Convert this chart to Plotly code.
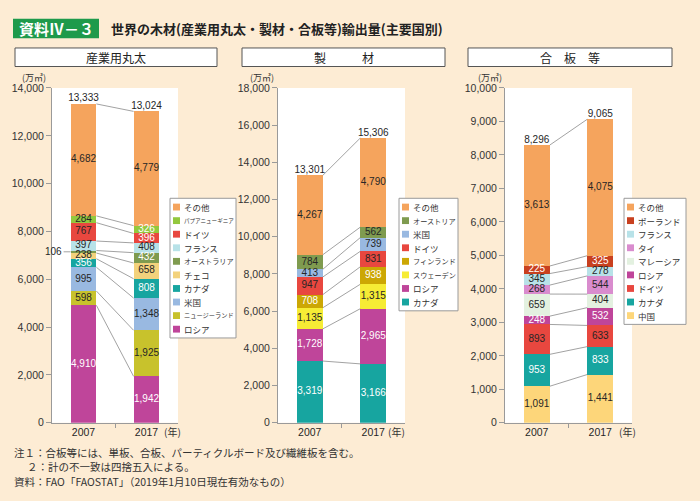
import plotly.graph_objects as go

# ---------------- data ----------------
YEARS = ["2007", "2017"]

LOG_CATS = ["ロシア", "ニュージーランド", "米国", "カナダ", "チェコ", "オーストラリア",
            "フランス", "ドイツ", "パプアニューギニア", "その他"]
LOG_2007 = [4910, 598, 995, 356, 238, 106, 397, 767, 284, 4682]
LOG_2017 = [1942, 1925, 1348, 808, 658, 432, 408, 396, 326, 4779]
LOG_TOTAL = [13333, 13024]

LUM_CATS = ["カナダ", "ロシア", "スウェーデン", "フィンランド", "ドイツ", "米国", "オーストリア", "その他"]
LUM_2007 = [3319, 1728, 1135, 708, 947, 413, 784, 4267]
LUM_2017 = [3166, 2965, 1315, 938, 831, 739, 562, 4790]
LUM_TOTAL = [13301, 15306]

PLY_CATS = ["中国", "カナダ", "ドイツ", "ロシア", "マレーシア", "タイ", "フランス", "ポーランド", "その他"]
PLY_2007 = [1091, 953, 893, 248, 659, 268, 345, 225, 3613]
PLY_2017 = [1441, 833, 633, 532, 404, 544, 278, 325, 4075]
PLY_TOTAL = [8296, 9065]

PANEL_TITLES = ["産業用丸太", "製\u3000\u3000\u3000材", "合\u3000板\u3000等"]
Y_MAX = [14000, 18000, 10000]
Y_STEP = [2000, 2000, 1000]
UNIT = "(万㎥)"
YEAR_UNIT = "(年)"
TITLE_TAG = "資料Ⅳ－３"
TITLE = "世界の木材(産業用丸太・製材・合板等)輸出量(主要国別)"
NOTES = ["注１：合板等には、単板、合板、パーティクルボード及び繊維板を含む。",
         "２：計の不一致は四捨五入による。",
         "資料：FAO「FAOSTAT」（2019年1月10日現在有効なもの）"]

# ---------------- styles ----------------
COLORS = {
    "その他": "#F5A45D", "パプアニューギニア": "#93C83E", "ドイツ": "#E8473F",
    "フランス": "#B8E2E8", "オーストラリア": "#7F9B4F", "チェコ": "#F3D27C",
    "カナダ": "#17A5A0", "米国": "#99B9E1", "ニュージーランド": "#C8C22C",
    "ロシア": "#BF459A", "オーストリア": "#7F9B4F", "フィンランド": "#CCA704",
    "スウェーデン": "#F6EC35", "ポーランド": "#C8401F", "タイ": "#D98CCE",
    "マレーシア": "#E3F1E0", "中国": "#FDD67A",
}
WHITE_LABELS = [
    {(0, "ロシア"), (1, "ロシア"), (0, "カナダ"), (1, "カナダ"), (1, "オーストラリア"),
     (1, "ドイツ"), (1, "パプアニューギニア")},
    {(0, "カナダ"), (1, "カナダ"), (0, "ロシア"), (1, "ロシア"), (0, "フィンランド"), (1, "フィンランド")},
    {(0, "カナダ"), (1, "カナダ"), (0, "ロシア"), (1, "ロシア"), (0, "ポーランド"), (1, "ポーランド")},
]
DARK = "#262626"
AXIS_C = "#9a9a9a"
CONN_C = "#8a8a8a"
BG = "#FDECD4"
NUM_FONT = "Liberation Sans, Arial, Noto Sans CJK JP, sans-serif"
JP_FONT = "Noto Sans CJK JP, sans-serif"

W, H = 700, 501
def PX(x): return x / W
def PY(y): return 1 - y / H

PLOT_X = [(52, 178), (278, 405), (505, 632)]
PLOT_Y = (84, 427)
HEAD_X = [(15, 217), (242, 445), (468, 672)]
HEAD_Y = (43, 62)
LEG_X = [(170, 236), (399, 458), (624, 686)]
LEG_Y0 = 197
LEG_STEP = 13.9
UNIT_X = [34, 262, 490]
YEARU_X = [172, 396, 627]
BAR_W = 0.41

panels = [
    (LOG_CATS, LOG_2007, LOG_2017, LOG_TOTAL),
    (LUM_CATS, LUM_2007, LUM_2017, LUM_TOTAL),
    (PLY_CATS, PLY_2007, PLY_2017, PLY_TOTAL),
]

fig = go.Figure()
shapes = []
annotations = []

def note(x, y, text, size, color, family=JP_FONT, xanchor="center"):
    annotations.append(dict(x=PX(x), y=PY(y), xref="paper", yref="paper", text=text,
                            xanchor=xanchor, yanchor="middle", showarrow=False,
                            font=dict(size=size, color=color, family=family)))

for p, (cats, v07, v17, totals) in enumerate(panels):
    xa = "x" if p == 0 else f"x{p+1}"
    ya = "y" if p == 0 else f"y{p+1}"
    ymax = Y_MAX[p]
    vals = [v07, v17]
    for i, c in enumerate(cats):
        fig.add_trace(go.Bar(
            x=[0, 1], y=[v07[i], v17[i]], width=BAR_W, name=c,
            marker=dict(color=COLORS[c], line=dict(width=0)),
            xaxis=xa, yaxis=ya, showlegend=False, hoverinfo="name+y"))
    cum = []
    for yi in range(2):
        s, arr = 0, []
        for v in vals[yi]:
            s += v
            arr.append(s)
        cum.append(arr)
    for k in range(len(cats)):
        fig.add_trace(go.Scatter(
            x=[BAR_W / 2, 1 - BAR_W / 2], y=[cum[0][k], cum[1][k]], mode="lines",
            line=dict(color=CONN_C, width=0.8), xaxis=xa, yaxis=ya,
            showlegend=False, hoverinfo="skip"))
    for yi in range(2):
        xs, ys, ts, cs = [], [], [], []
        for i, c in enumerate(cats):
            v = vals[yi][i]
            if v / ymax < 0.012:
                annotations.append(dict(
                    x=yi - BAR_W / 2, y=cum[yi][i] - v / 2, xref=xa, yref=ya,
                    text=f"{v:,}", showarrow=True, arrowhead=0, arrowwidth=0.8,
                    arrowcolor=CONN_C, ax=-17, ay=0, xanchor="center", yanchor="middle",
                    font=dict(size=10, color=DARK, family=NUM_FONT)))
                continue
            xs.append(yi)
            ys.append(cum[yi][i] - v / 2)
            ts.append(f"{v:,}")
            cs.append("white" if (yi, c) in WHITE_LABELS[p] else DARK)
        fig.add_trace(go.Scatter(
            x=xs, y=ys, text=ts, mode="text", textposition="middle center",
            textfont=dict(size=10, color=cs, family=NUM_FONT),
            xaxis=xa, yaxis=ya, showlegend=False, hoverinfo="skip"))
    fig.add_trace(go.Scatter(
        x=[0, 1], y=[cum[0][-1], cum[1][-1]], text=[f"{t:,}" for t in totals],
        mode="text", textposition="top center",
        textfont=dict(size=10, color=DARK, family=NUM_FONT),
        xaxis=xa, yaxis=ya, showlegend=False, hoverinfo="skip"))

    x0, x1 = PLOT_X[p]
    fig.update_layout(**{
        ("xaxis" if p == 0 else f"xaxis{p+1}"): dict(
            domain=[PX(x0), PX(x1)], range=[-0.5, 1.5], anchor=ya,
            tickvals=[0, 1], ticktext=YEARS, ticks="", showgrid=False, zeroline=False,
            showline=True, linecolor=AXIS_C, linewidth=1,
            minor=dict(tickvals=[0.5], ticks="outside", ticklen=4, tickcolor=AXIS_C),
            tickfont=dict(size=10.5, color=DARK, family=NUM_FONT), fixedrange=True),
        ("yaxis" if p == 0 else f"yaxis{p+1}"): dict(
            domain=[PY(PLOT_Y[1]), PY(PLOT_Y[0])], range=[0, ymax], anchor=xa,
            dtick=Y_STEP[p], tickformat=",d", ticks="outside", ticklen=5,
            tickcolor=AXIS_C, showgrid=False, zeroline=False, showline=True,
            linecolor=AXIS_C, linewidth=1,
            tickfont=dict(size=10.5, color="#333", family=NUM_FONT), fixedrange=True),
    })

    hx0, hx1 = HEAD_X[p]
    shapes.append(dict(type="rect", xref="paper", yref="paper",
                       x0=PX(hx0), x1=PX(hx1), y0=PY(HEAD_Y[1]), y1=PY(HEAD_Y[0]),
                       fillcolor="white", line=dict(color="#555", width=1)))
    note((hx0 + hx1) / 2, (HEAD_Y[0] + HEAD_Y[1]) / 2, PANEL_TITLES[p], 12, "#222")
    note(UNIT_X[p], 73, UNIT, 9, "#333")
    note(YEARU_X[p], 436, YEAR_UNIT, 10, "#333")

    lx0, lx1 = LEG_X[p]
    n = len(cats)
    ly1 = LEG_Y0 + 18 + (n - 1) * LEG_STEP
    shapes.append(dict(type="rect", xref="paper", yref="paper",
                       x0=PX(lx0), x1=PX(lx1), y0=PY(ly1), y1=PY(LEG_Y0),
                       fillcolor="white", line=dict(color="#9a9a9a", width=1)))
    avail = lx1 - (lx0 + 13) - 3
    for j, c in enumerate(reversed(cats)):
        cy = LEG_Y0 + 9 + j * LEG_STEP
        shapes.append(dict(type="rect", xref="paper", yref="paper",
                           x0=PX(lx0 + 3), x1=PX(lx0 + 10), y0=PY(cy + 3.5), y1=PY(cy - 3.5),
                           fillcolor=COLORS[c], line=dict(width=0)))
        note(lx0 + 12, cy, c, min(8.5, avail / len(c)), "#333", xanchor="left")

shapes.append(dict(type="rect", xref="paper", yref="paper",
                   x0=PX(13), x1=PX(99), y0=PY(33), y1=PY(13),
                   fillcolor="#1E9A4B", line=dict(width=0)))
note(56, 23, f"<b>{TITLE_TAG}</b>", 15, "white")
note(109, 23, f"<b>{TITLE}</b>", 13, "#222", xanchor="left")
for txt, x, y in zip(NOTES, [12, 25, 12], [457, 472, 487]):
    note(x, y, txt, 10.5, "#333", xanchor="left")

fig.update_layout(
    width=W, height=H, margin=dict(l=0, r=0, t=0, b=0),
    paper_bgcolor=BG, plot_bgcolor="white", barmode="stack", bargap=0,
    shapes=shapes, annotations=annotations, showlegend=False,
    font=dict(family=NUM_FONT),
)
fig.write_html("out.html", config={"displayModeBar": False},
               post_script="document.body.style.margin='0';document.body.style.background='" + BG + "';")
